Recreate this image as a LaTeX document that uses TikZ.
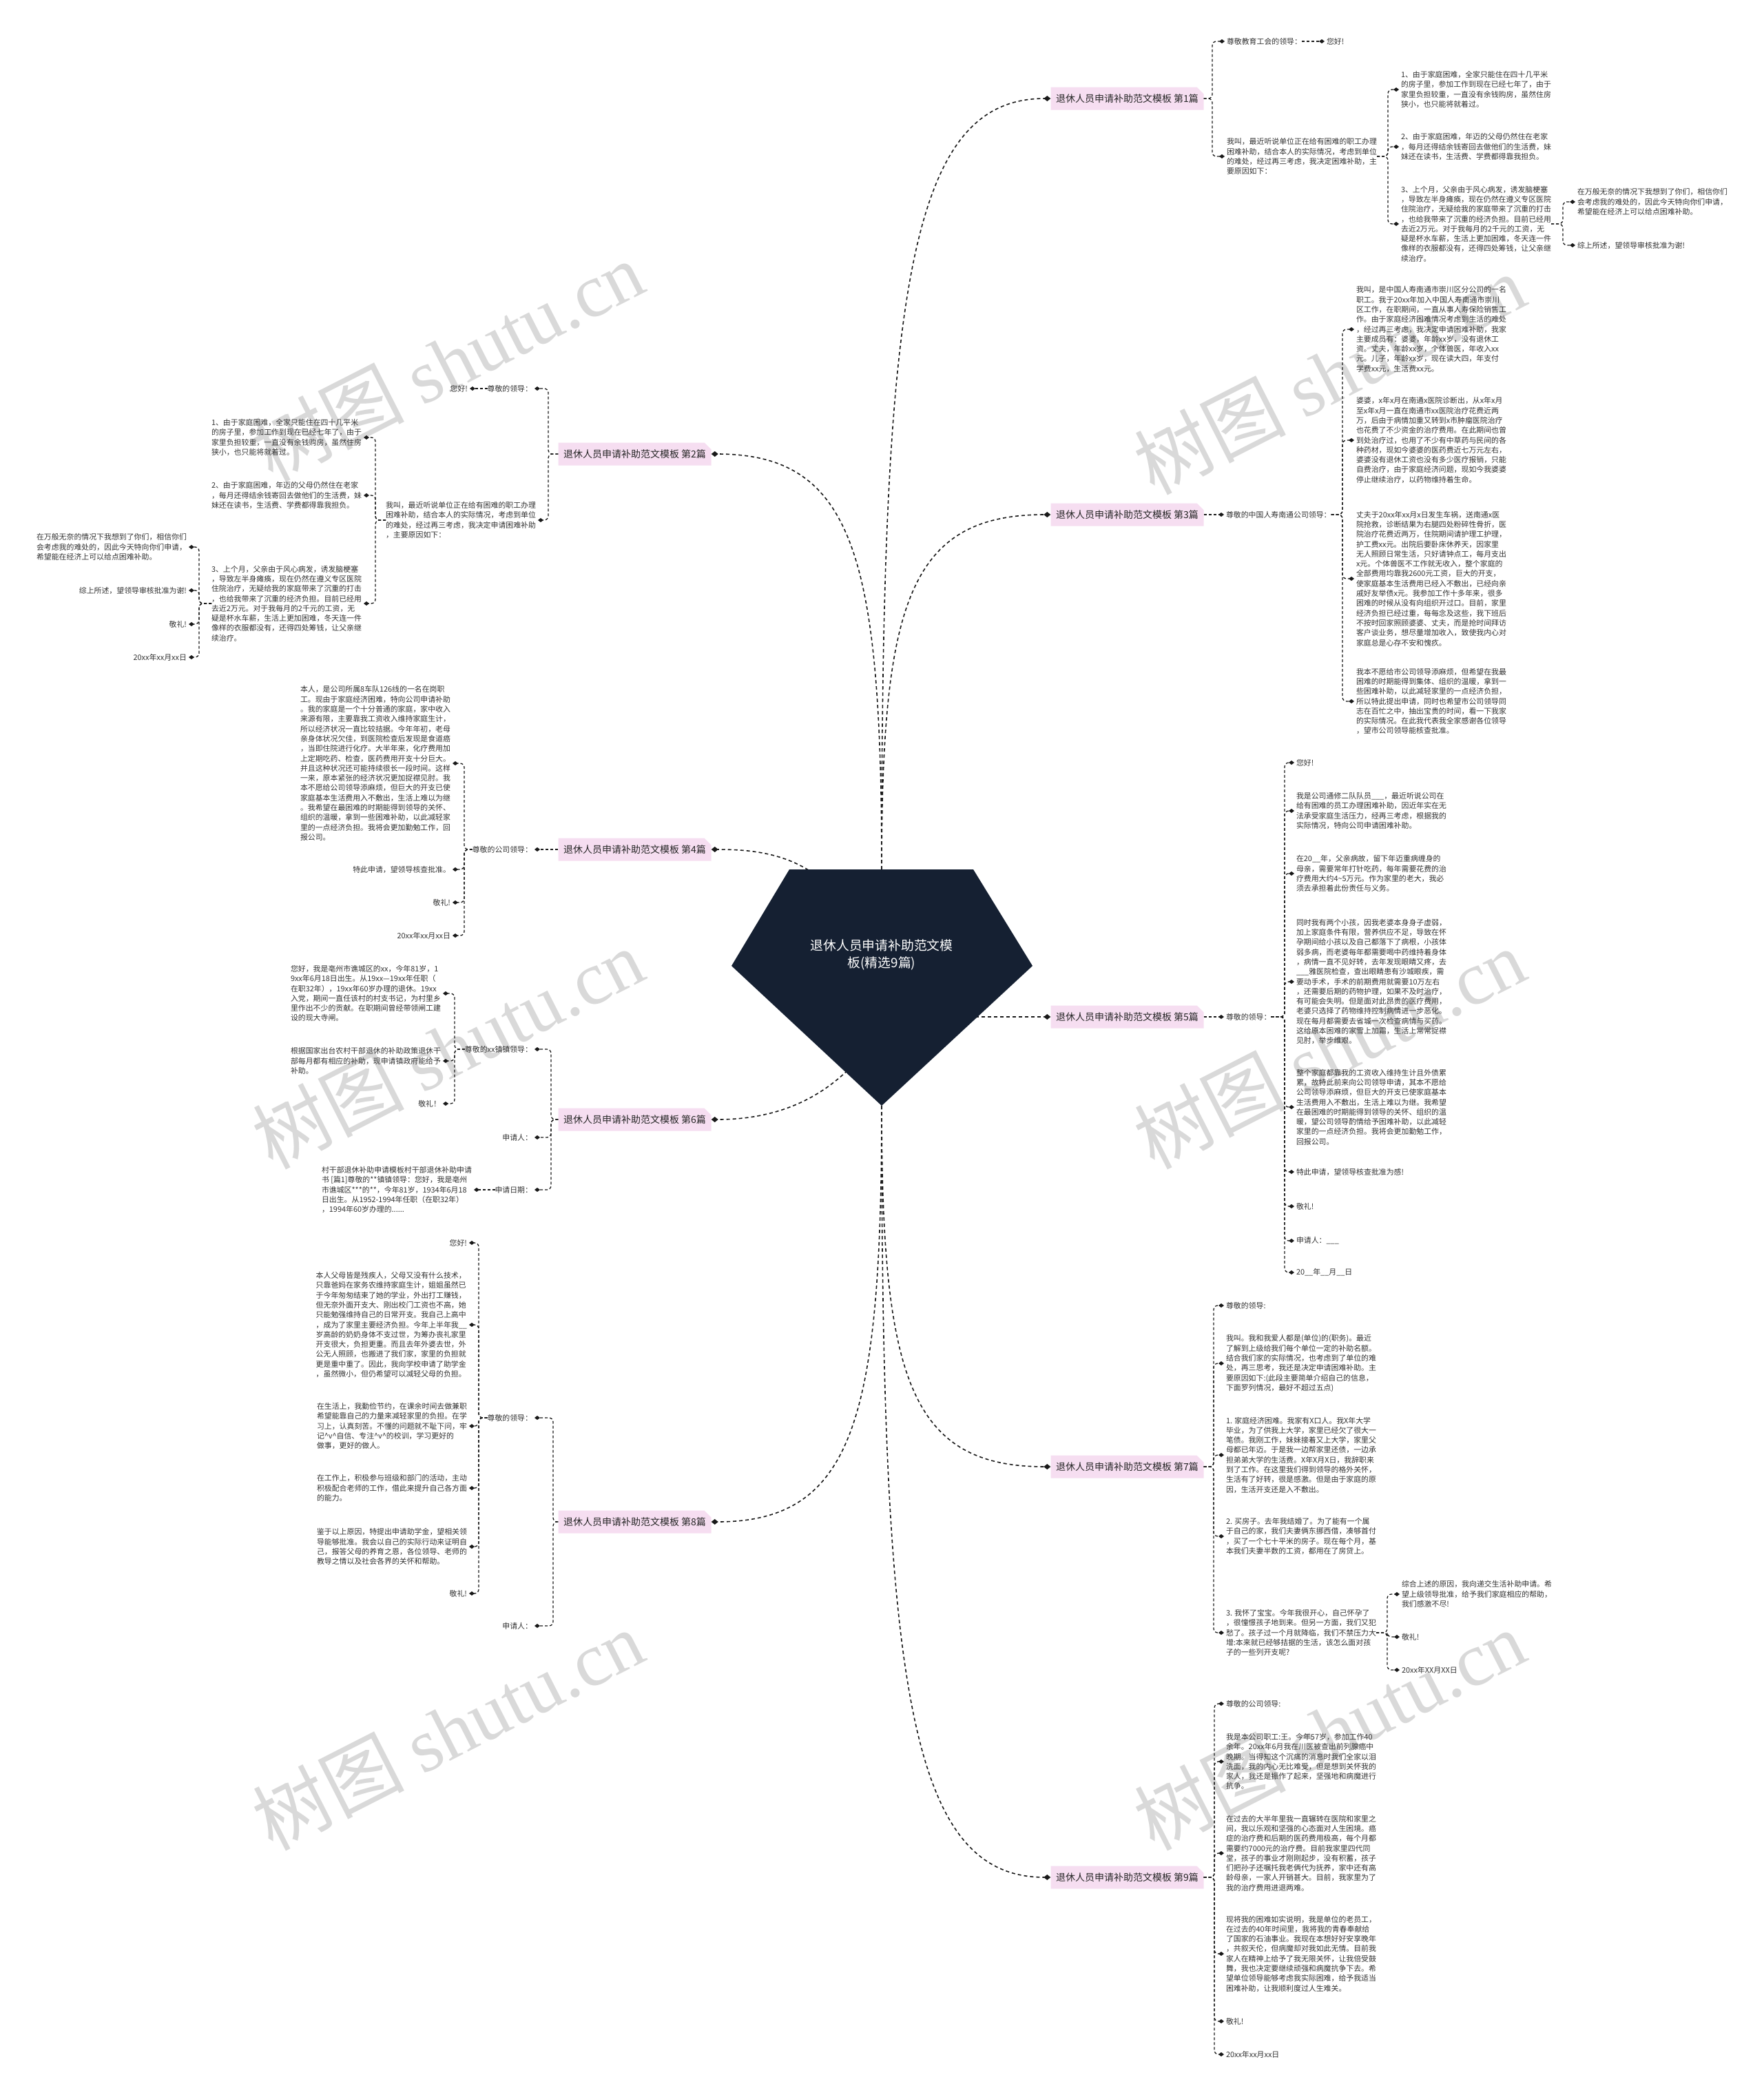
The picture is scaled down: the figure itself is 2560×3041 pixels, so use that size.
\documentclass[tikz,border=0pt]{standalone}
\usepackage{fontspec}
\setmainfont{Noto Sans CJK SC}
\newfontfamily\wmserif{Liberation Serif}
\usetikzlibrary{arrows.meta,shapes.misc}
\definecolor{tpink}{RGB}{246,222,241}
\definecolor{navy}{RGB}{21,32,50}
\newcommand\rlk[3]{\draw[lk] (#1.east) -- (#3,0 |- #1.east) |- (#2.west);}
\newcommand\llk[3]{\draw[lk] (#1.west) -- (#3,0 |- #1.west) |- (#2.east);}
\tikzset{
  tx/.style={font=\fontsize{10.9}{14.3}\selectfont, text=black!80, inner sep=0pt, outer sep=0pt, align=left},
  R/.style={tx, anchor=west},
  L/.style={tx, anchor=east},
  ttl/.style={chamfered rectangle, chamfered rectangle corners=north east, chamfered rectangle xsep=5pt, chamfered rectangle ysep=5pt, fill=tpink, minimum width=222pt, minimum height=33pt, inner sep=0pt, font=\fontsize{14}{16}\selectfont, text=black!85},
  lk/.style={draw=black!90, line width=1.3pt, dash pattern=on 4pt off 3pt, rounded corners=6pt, -{Diamond[length=8pt,width=6pt]}, shorten >=3pt},
  cn/.style={draw=black!90, line width=1.6pt, dash pattern=on 5pt off 4pt, -{Diamond[length=10pt,width=8pt]}},
  wm/.style={font=\fontsize{110}{120}\selectfont, text=black!15, rotate=27, inner sep=0pt}
}
\begin{document}
\begin{tikzpicture}[x=1pt,y=-1pt]
\fill[white] (0,0) rectangle (2560,3041);
\useasboundingbox (0,0) rectangle (2560,3041);
% watermarks
\node[wm] (w1) at (650,524) {树图 {\wmserif shutu.cn}};
\node[wm] (w2) at (1930,543) {树图 {\wmserif shutu.cn}};
\node[wm] (w3) at (650,1522) {树图 {\wmserif shutu.cn}};
\node[wm] (w4) at (1930,1522) {树图 {\wmserif shutu.cn}};
\node[wm] (w5) at (650,2511) {树图 {\wmserif shutu.cn}};
\node[wm] (w6) at (1930,2511) {树图 {\wmserif shutu.cn}};
% titles
\node[ttl] (t1) at (1636.5,143) {退休人员申请补助范文模板 第1篇};
\node[ttl] (t3) at (1636.5,747) {退休人员申请补助范文模板 第3篇};
\node[ttl] (t5) at (1636.5,1476) {退休人员申请补助范文模板 第5篇};
\node[ttl] (t7) at (1636.5,2129) {退休人员申请补助范文模板 第7篇};
\node[ttl] (t9) at (1636.5,2725) {退休人员申请补助范文模板 第9篇};
\node[ttl] (t2) at (921.5,659) {退休人员申请补助范文模板 第2篇};
\node[ttl] (t4) at (921.5,1233) {退休人员申请补助范文模板 第4篇};
\node[ttl] (t6) at (921.5,1625) {退休人员申请补助范文模板 第6篇};
\node[ttl] (t8) at (921.5,2209) {退休人员申请补助范文模板 第8篇};
% ---------------- branch 1
\node[R] (b1a) at (1781,60) {尊敬教育工会的领导：};
\node[R] (b1a1) at (1926,60) {您好!};
\node[R] (b1b) at (1781,227) {我叫，最近听说单位正在给有困难的职工办理\\困难补助，结合本人的实际情况，考虑到单位\\的难处，经过再三考虑，我决定困难补助，主\\要原因如下：};
\node[R] (b1b1) at (2034,130) {1、由于家庭困难，全家只能住在四十几平米\\的房子里，参加工作到现在已经七年了，由于\\家里负担较重，一直没有余钱购房，虽然住房\\狭小，也只能将就着过。};
\node[R] (b1b2) at (2034,213) {2、由于家庭困难，年迈的父母仍然住在老家\\，每月还得结余钱寄回去做他们的生活费，妹\\妹还在读书，生活费、学费都得靠我担负。};
\node[R] (b1b3) at (2034,325) {3、上个月，父亲由于风心病发，诱发脑梗塞\\，导致左半身瘫痪，现在仍然在遵义专区医院\\住院治疗，无疑给我的家庭带来了沉重的打击\\，也给我带来了沉重的经济负担。目前已经用\\去近2万元。对于我每月的2千元的工资，无\\疑是杯水车薪，生活上更加困难，冬天连一件\\像样的衣服都没有，还得四处筹钱，让父亲继\\续治疗。};
\node[R] (b1b3a) at (2290,293) {在万般无奈的情况下我想到了你们，相信你们\\会考虑我的难处的，因此今天特向你们申请，\\希望能在经济上可以给点困难补助。};
\node[R] (b1b3b) at (2290,356) {综上所述，望领导审核批准为谢!};
\rlk{t1}{b1a}{1760}
\rlk{t1}{b1b}{1760}
\draw[lk] (b1a.east) -- (b1a1.west);
\rlk{b1b}{b1b1}{2015}
\rlk{b1b}{b1b2}{2015}
\rlk{b1b}{b1b3}{2015}
\rlk{b1b3}{b1b3a}{2269}
\rlk{b1b3}{b1b3b}{2269}
% ---------------- branch 3
\node[R] (b3a) at (1780,747) {尊敬的中国人寿南通公司领导：};
\node[R] (b3a1) at (1969,478) {我叫，是中国人寿南通市崇川区分公司的一名\\职工。我于20xx年加入中国人寿南通市崇川\\区工作，在职期间，一直从事人寿保险销售工\\作。由于家庭经济困难情况考虑到生活的难处\\，经过再三考虑，我决定申请困难补助，我家\\主要成员有：婆婆，年龄xx岁，没有退休工\\资。丈夫，年龄xx岁，个体兽医，年收入xx\\元。儿子，年龄xx岁，现在读大四，年支付\\学费xx元，生活费xx元。};
\node[R] (b3a2) at (1969,639) {婆婆，x年x月在南通x医院诊断出，从x年x月\\至x年x月一直在南通市xx医院治疗花费近两\\万，后由于病情加重又转到x市肿瘤医院治疗\\也花费了不少资金的治疗费用。在此期间也曾\\到处治疗过，也用了不少有中草药与民间的各\\种药材，现如今婆婆的医药费近七万元左右，\\婆婆没有退休工资也没有多少医疗报销，只能\\自费治疗，由于家庭经济问题，现如今我婆婆\\停止继续治疗，以药物维持着生命。};
\node[R] (b3a3) at (1969,840) {丈夫于20xx年xx月x日发生车祸，送南通x医\\院抢救，诊断结果为右腿四处粉碎性骨折，医\\院治疗花费近两万，住院期间请护理工护理，\\护工费xx元。出院后要卧床休养天，因家里\\无人照顾日常生活，只好请钟点工，每月支出\\x元。个体兽医不工作就无收入，整个家庭的\\全部费用均靠我2600元工资，巨大的开支，\\使家庭基本生活费用已经入不敷出，已经向亲\\戚好友举债x元。我参加工作十多年来，很多\\困难的时候从没有向组织开过口。目前，家里\\经济负担已经过重，每每念及这些，我下班后\\不按时回家照顾婆婆、丈夫，而是抢时间拜访\\客户谈业务，想尽量增加收入，致使我内心对\\家庭总是心存不安和愧疚。};
\node[R] (b3a4) at (1969,1018) {我本不愿给市公司领导添麻烦，但希望在我最\\困难的时期能得到集体、组织的温暖，拿到一\\些困难补助，以此减轻家里的一点经济负担，\\所以特此提出申请，同时也希望市公司领导同\\志在百忙之中，抽出宝贵的时间，看一下我家\\的实际情况。在此我代表我全家感谢各位领导\\，望市公司领导能核查批准。};
\draw[lk] (t3.east) -- (b3a.west);
\rlk{b3a}{b3a1}{1949}
\rlk{b3a}{b3a2}{1949}
\rlk{b3a}{b3a3}{1949}
\rlk{b3a}{b3a4}{1949}
% ---------------- branch 5
\node[R] (b5a) at (1780,1476) {尊敬的领导：};
\node[R] (b5a1) at (1882,1107) {您好!};
\node[R] (b5a2) at (1882,1177) {我是公司通修二队队员\_\_\_，最近听说公司在\\给有困难的员工办理困难补助，因近年实在无\\法承受家庭生活压力，经再三考虑，根据我的\\实际情况，特向公司申请困难补助。};
\node[R] (b5a3) at (1882,1268) {在20\_\_年，父亲病故，留下年迈重病缠身的\\母亲，需要常年打针吃药，每年需要花费的治\\疗费用大约4\textasciitilde 5万元。作为家里的老大，我必\\须去承担着此份责任与义务。};
\node[R] (b5a4) at (1882,1425) {同时我有两个小孩，因我老婆本身身子虚弱，\\加上家庭条件有限，营养供应不足，导致在怀\\孕期间给小孩以及自己都落下了病根，小孩体\\弱多病，而老婆每年都需要喝中药维持着身体\\，病情一直不见好转，去年发现眼睛又疼，去\\\_\_\_雅医院检查，查出眼睛患有沙城眼疾，需\\要动手术，手术的前期费用就需要10万左右\\，还需要后期的药物护理，如果不及时治疗，\\有可能会失明。但是面对此昂贵的医疗费用，\\老婆只选择了药物维持控制病情进一步恶化。\\现在每月都需要去省城一次检查病情与买药。\\这给原本困难的家雪上加霜，生活上常常捉襟\\见肘，举步维艰。};
\node[R] (b5a5) at (1882,1607) {整个家庭都靠我的工资收入维持生计且外债累\\累，故特此前来向公司领导申请，其本不愿给\\公司领导添麻烦，但巨大的开支已使家庭基本\\生活费用入不敷出，生活上难以为继。我希望\\在最困难的时期能得到领导的关怀、组织的温\\暖，望公司领导酌情给予困难补助，以此减轻\\家里的一点经济负担。我将会更加勤勉工作，\\回报公司。};
\node[R] (b5a6) at (1882,1701) {特此申请，望领导核查批准为感!};
\node[R] (b5a7) at (1882,1751) {敬礼!};
\node[R] (b5a8) at (1882,1801) {申请人：\_\_\_};
\node[R] (b5a9) at (1882,1847) {20\_\_年\_\_月\_\_日};
\draw[lk] (t5.east) -- (b5a.west);
\foreach \k in {1,...,9}{\rlk{b5a}{b5a\k}{1865}}
% ---------------- branch 7
\node[R] (b7a) at (1780,1895) {尊敬的领导:};
\node[R] (b7b) at (1780,1979) {我叫。我和我爱人都是(单位)的(职务)。最近\\了解到上级给我们每个单位一定的补助名额。\\结合我们家的实际情况，也考虑到了单位的难\\处，再三思考，我还是决定申请困难补助。主\\要原因如下:(此段主要简单介绍自己的信息，\\下面罗列情况，最好不超过五点)};
\node[R] (b7c) at (1780,2112) {1. 家庭经济困难。我家有X口人。我X年大学\\毕业，为了供我上大学，家里已经欠了很大一\\笔债。我刚工作，妹妹接着又上大学，家里父\\母都已年迈。于是我一边帮家里还债，一边承\\担弟弟大学的生活费。X年X月X日，我辞职来\\到了工作。在这里我们得到领导的格外关怀，\\生活有了好转，很是感激。但是由于家庭的原\\因，生活开支还是入不敷出。};
\node[R] (b7d) at (1780,2230) {2. 买房子。去年我结婚了。为了能有一个属\\于自己的家，我们夫妻俩东挪西借，凑够首付\\，买了一个七十平米的房子。现在每个月，基\\本我们夫妻半数的工资，都用在了房贷上。};
\node[R] (b7e) at (1780,2370) {3. 我怀了宝宝。今年我很开心，自己怀孕了\\，很憧憬孩子地到来。但另一方面，我们又犯\\愁了。孩子过一个月就降临，我们不禁压力大\\增:本来就已经够拮据的生活，该怎么面对孩\\子的一些列开支呢?};
\node[R] (b7e1) at (2035,2314) {综合上述的原因，我向递交生活补助申请。希\\望上级领导批准，给予我们家庭相应的帮助，\\我们感激不尽!};
\node[R] (b7e2) at (2035,2376) {敬礼!};
\node[R] (b7e3) at (2035,2424) {20xx年XX月XX日};
\foreach \k in {a,b,c,d,e}{\rlk{t7}{b7\k}{1762}}
\foreach \k in {1,2,3}{\rlk{b7e}{b7e\k}{2014}}
% ---------------- branch 9
\node[R] (b9a) at (1780,2473) {尊敬的公司领导:};
\node[R] (b9b) at (1780,2557) {我是本公司职工:王。今年57岁，参加工作40\\余年。20xx年6月我在川医被查出前列腺癌中\\晚期。当得知这个沉痛的消息时我们全家以泪\\洗面，我的内心无比难受，但是想到关怀我的\\家人，我还是振作了起来，坚强地和病魔进行\\抗争。};
\node[R] (b9c) at (1780,2690) {在过去的大半年里我一直辗转在医院和家里之\\间，我以乐观和坚强的心态面对人生困境。癌\\症的治疗费和后期的医药费用极高，每个月都\\需要约7000元的治疗费。目前我家里四代同\\堂，孩子的事业才刚刚起步，没有积蓄，孩子\\们把孙子还嘱托我老俩代为抚养，家中还有高\\龄母亲，一家人开销甚大。目前，我家里为了\\我的治疗费用进退两难。};
\node[R] (b9d) at (1780,2836) {现将我的困难如实说明，我是单位的老员工，\\在过去的40年时间里，我将我的青春奉献给\\了国家的石油事业。我现在本想好好安享晚年\\，共叙天伦，但病魔却对我如此无情。目前我\\家人在精神上给予了我无限关怀，让我倍受鼓\\舞，我也决定要继续顽强和病魔抗争下去。希\\望单位领导能够考虑我实际困难，给予我适当\\困难补助，让我顺利度过人生难关。};
\node[R] (b9e) at (1780,2934) {敬礼!};
\node[R] (b9f) at (1780,2982) {20xx年xx月xx日};
\foreach \k in {a,b,c,d,e,f}{\rlk{t9}{b9\k}{1763}}
% ---------------- branch 2
\node[L] (b2a) at (773,564) {尊敬的领导：};
\node[L] (b2a1) at (679,564) {您好!};
\node[L] (b2b) at (778,755) {我叫，最近听说单位正在给有困难的职工办理\\困难补助，结合本人的实际情况，考虑到单位\\的难处，经过再三考虑，我决定申请困难补助\\，主要原因如下：};
\node[L] (b2b1) at (525,635) {1、由于家庭困难，全家只能住在四十几平米\\的房子里，参加工作到现在已经七年了，由于\\家里负担较重，一直没有余钱购房，虽然住房\\狭小，也只能将就着过。};
\node[L] (b2b2) at (525,719) {2、由于家庭困难，年迈的父母仍然住在老家\\，每月还得结余钱寄回去做他们的生活费，妹\\妹还在读书，生活费、学费都得靠我担负。};
\node[L] (b2b3) at (525,876) {3、上个月，父亲由于风心病发，诱发脑梗塞\\，导致左半身瘫痪，现在仍然在遵义专区医院\\住院治疗，无疑给我的家庭带来了沉重的打击\\，也给我带来了沉重的经济负担。目前已经用\\去近2万元。对于我每月的2千元的工资，无\\疑是杯水车薪，生活上更加困难，冬天连一件\\像样的衣服都没有，还得四处筹钱，让父亲继\\续治疗。};
\node[L] (b2b3a) at (271,794) {在万般无奈的情况下我想到了你们，相信你们\\会考虑我的难处的，因此今天特向你们申请，\\希望能在经济上可以给点困难补助。};
\node[L] (b2b3b) at (271,857) {综上所述，望领导审核批准为谢!};
\node[L] (b2b3c) at (271,906) {敬礼!};
\node[L] (b2b3d) at (271,954) {20xx年xx月xx日};
\llk{t2}{b2a}{796}
\llk{t2}{b2b}{796}
\draw[lk] (b2a.west) -- (b2a1.east);
\foreach \k in {1,2,3}{\llk{b2b}{b2b\k}{545}}
\foreach \k in {a,b,c,d}{\llk{b2b3}{b2b3\k}{289}}
% ---------------- branch 4
\node[L] (b4a) at (773,1233) {尊敬的公司领导：};
\node[L] (b4a1) at (654,1108) {本人，是公司所属8车队126线的一名在岗职\\工。现由于家庭经济困难，特向公司申请补助\\。我的家庭是一个十分普通的家庭，家中收入\\来源有限，主要靠我工资收入维持家庭生计，\\所以经济状况一直比较拮据。今年年初，老母\\亲身体状况欠佳，到医院检查后发现是食道癌\\，当即住院进行化疗。大半年来，化疗费用加\\上定期吃药、检查，医药费用开支十分巨大。\\并且这种状况还可能持续很长一段时间。这样\\一来，原本紧张的经济状况更加捉襟见肘。我\\本不愿给公司领导添麻烦，但巨大的开支已使\\家庭基本生活费用入不敷出，生活上难以为继\\。我希望在最困难的时期能得到领导的关怀、\\组织的温暖，拿到一些困难补助，以此减轻家\\里的一点经济负担。我将会更加勤勉工作，回\\报公司。};
\node[L] (b4a2) at (654,1262) {特此申请，望领导核查批准。};
\node[L] (b4a3) at (654,1310) {敬礼!};
\node[L] (b4a4) at (654,1358) {20xx年xx月xx日};
\draw[lk] (t4.west) -- (b4a.east);
\foreach \k in {1,2,3,4}{\llk{b4a}{b4a\k}{674}}
% ---------------- branch 6
\node[L] (b6a) at (773,1523) {尊敬的xx镇镇领导：};
\node[L] (b6b) at (773,1651) {申请人：};
\node[L] (b6c) at (773,1727) {申请日期：};
\node[L] (b6a1) at (640,1442) {您好，我是亳州市谯城区的xx，今年81岁，1\\9xx年6月18日出生。从19xx—19xx年任职（\\在职32年），19xx年60岁办理的退休。19xx\\入党，期间一直任该村的村支书记，为村里乡\\里作出不少的贡献。在职期间曾经带领闸工建\\设的现大寺闸。};
\node[L] (b6a2) at (640,1540) {根据国家出台农村干部退休的补助政策退休干\\部每月都有相应的补助，现申请镇政府能给予\\补助。};
\node[L] (b6a3) at (640,1602) {敬礼！};
\node[L] (b6c1) at (685,1727) {村干部退休补助申请模板村干部退休补助申请\\书 [篇1]尊敬的**镇镇领导：您好，我是亳州\\市谯城区***的**，今年81岁，1934年6月18\\日出生。从1952-1994年任职（在职32年）\\，1994年60岁办理的......};
\foreach \k in {a,b,c}{\llk{t6}{b6\k}{800}}
\foreach \k in {1,2,3}{\llk{b6a}{b6a\k}{660}}
\draw[lk] (b6c.west) -- (b6c1.east);
% ---------------- branch 8
\node[L] (b8a) at (773,2058) {尊敬的领导：};
\node[L] (b8b) at (773,2360) {申请人：};
\node[L] (b8a1) at (678,1804) {您好!};
\node[L] (b8a2) at (678,1923) {本人父母皆是残疾人，父母又没有什么技术，\\只靠爸妈在家务农维持家庭生计，姐姐虽然已\\于今年匆匆结束了她的学业，外出打工赚钱，\\但无奈外面开支大、刚出校门工资也不高，她\\只能勉强维持自己的日常开支。我自己上高中\\，成为了家里主要经济负担。今年上半年我\_\_\\岁高龄的奶奶身体不支过世，为筹办丧礼家里\\开支很大，负担更重。而且去年外婆去世，外\\公无人照顾，也搬进了我们家，家里的负担就\\更是重中重了。因此，我向学校申请了助学金\\，虽然微小，但仍希望可以减轻父母的负担。};
\node[L] (b8a3) at (678,2070) {在生活上，我勤俭节约，在课余时间去做兼职\\希望能靠自己的力量来减轻家里的负担。在学\\习上，认真刻苦。不懂的问题就不耻下问，牢\\记\textasciicircum v\textasciicircum 自信、专注\textasciicircum v\textasciicircum 的校训，学习更好的\\做事，更好的做人。};
\node[L] (b8a4) at (678,2160) {在工作上，积极参与班级和部门的活动，主动\\积极配合老师的工作，借此来提升自己各方面\\的能力。};
\node[L] (b8a5) at (678,2245) {鉴于以上原因，特提出申请助学金，望相关领\\导能够批准。我会以自己的实际行动来证明自\\己，报答父母的养育之恩，各位领导、老师的\\教导之情以及社会各界的关怀和帮助。};
\node[L] (b8a6) at (678,2313) {敬礼!};
\llk{t8}{b8a}{803}
\llk{t8}{b8b}{803}
\foreach \k in {1,...,6}{\llk{b8a}{b8a\k}{695}}
% ---------------- center connectors
\coordinate (ctop) at (1280,1262);
\coordinate (cbot) at (1280,1605);
\coordinate (cr) at (1380,1476);
\coordinate (cul) at (1230,1320);
\coordinate (cll) at (1260,1520);
\draw[cn] (ctop) .. controls (1280,423) and (1320,143) .. (t1.west);
\draw[cn] (ctop) .. controls (1280,876) and (1320,747) .. (t3.west);
\draw[cn] (ctop) .. controls (1280,810) and (1240,659) .. (t2.east);
\draw[cn] (cul) .. controls (1180,1240) and (1100,1233) .. (t4.east);
\draw[cn] (cr) -- (t5.west);
\draw[cn] (cll) .. controls (1200,1600) and (1120,1625) .. (t6.east);
\draw[cn] (cbot) .. controls (1280,1998) and (1320,2129) .. (t7.west);
\draw[cn] (cbot) .. controls (1280,2058) and (1240,2209) .. (t8.east);
\draw[cn] (cbot) .. controls (1280,2445) and (1320,2725) .. (t9.west);
% center
\fill[navy] (1146,1262) -- (1413,1262) -- (1499,1402) -- (1280,1605) -- (1062,1402) -- cycle;
\node[font=\fontsize{18.8}{25}\selectfont, text=white, align=center, inner sep=0pt] (c) at (1280,1386) {退休人员申请补助范文模\\板(精选9篇)};
\end{tikzpicture}
\end{document}
